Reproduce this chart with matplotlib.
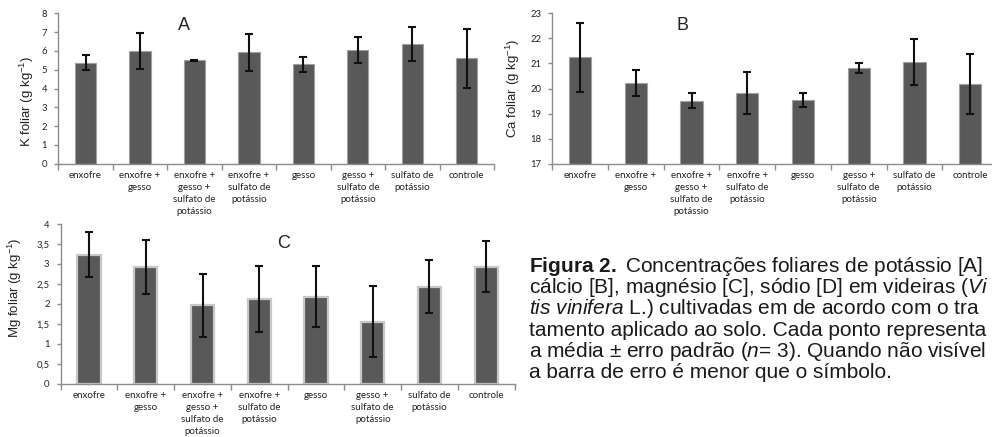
import matplotlib
matplotlib.use('Agg')
import matplotlib.pyplot as plt
import numpy as np

plt.rcParams['mathtext.fontset'] = 'custom'
plt.rcParams['mathtext.rm'] = 'Liberation Sans'
plt.rcParams['mathtext.it'] = 'Liberation Sans:italic'
plt.rcParams['mathtext.bf'] = 'Liberation Sans:bold'

# ---------------- data ----------------
categories = ["enxofre", "enxofre +\ngesso", "enxofre +\ngesso +\nsulfato de\npotássio",
              "enxofre +\nsulfato de\npotássio", "gesso", "gesso +\nsulfato de\npotássio",
              "sulfato de\npotássio", "controle"]

k_mean = [5.37, 5.98, 5.50, 5.92, 5.30, 6.03, 6.37, 5.62]
k_err = [0.40, 0.95, 0.03, 0.97, 0.40, 0.69, 0.90, 1.57]
ca_mean = [21.24, 20.22, 19.51, 19.82, 19.54, 20.80, 21.07, 20.19]
ca_err = [1.36, 0.53, 0.30, 0.82, 0.29, 0.20, 0.92, 1.20]
mg_mean = [3.23, 2.92, 1.96, 2.12, 2.18, 1.55, 2.43, 2.93]
mg_err = [0.57, 0.68, 0.80, 0.82, 0.77, 0.89, 0.66, 0.64]

k_ticks = [0, 1, 2, 3, 4, 5, 6, 7, 8]
k_ticklabels = ["0", "1", "2", "3", "4", "5", "6", "7", "8"]
ca_ticks = [17, 18, 19, 20, 21, 22, 23]
ca_ticklabels = ["17", "18", "19", "20", "21", "22", "23"]
mg_ticks = [0, 0.5, 1, 1.5, 2, 2.5, 3, 3.5, 4]
mg_ticklabels = ["0", "0,5", "1", "1,5", "2", "2,5", "3", "3,5", "4"]

# caption (as visible in the reference, which is cropped at its right edge)
caption_lines = [
    r"$\bf{Figura\ 2.}$ Concentrações foliares de potássio [A]",
    r"cálcio [B], magnésio [C], sódio [D] em videiras ($\it{Vi}$",
    r"$\it{tis\ vinifera}$ L.) cultivadas em de acordo com o tra",
    r"tamento aplicado ao solo. Cada ponto representa",
    r"a média ± erro padrão ($\it{n}$= 3). Quando não visível",
    r"a barra de erro é menor que o símbolo.",
]

# ---------------- figure ----------------
W, H = 992, 437
fig = plt.figure(figsize=(W / 100, H / 100), dpi=100)

SPINE = '#8c8c8c'
BAR = '#595959'
TICKFONT = 'Lato'


def px_rect(l, t, r, b):
    return [l / W, 1 - b / H, (r - l) / W, (b - t) / H]


def panel(rect, means, errs, ylim, yticks, yticklabels, ylabel, ylab_xy,
          letter, letter_xy, edgecolor, edgelw, width):
    ax = fig.add_axes(px_rect(*rect))
    n = len(means)
    x = np.arange(n)
    ax.bar(x, means, width, color=BAR, edgecolor=edgecolor, linewidth=edgelw, zorder=2)
    ax.errorbar(x, means, yerr=errs, fmt='none', ecolor='#111111', elinewidth=1.5,
                capsize=2.6, capthick=1.5, zorder=3)
    ax.set_xlim(-0.5, n - 0.5)
    ax.set_ylim(*ylim)
    for s in ['top', 'right']:
        ax.spines[s].set_visible(False)
    for s in ['left', 'bottom']:
        ax.spines[s].set_color(SPINE)
        ax.spines[s].set_linewidth(1.0)
    ax.set_xticks(x)
    ax.set_xticklabels(categories, fontsize=7, family=TICKFONT, color='#222222',
                       linespacing=1.45, va='top')
    ax.tick_params(axis='x', which='major', length=0, pad=5)
    ax.set_xticks(np.arange(n + 1) - 0.5, minor=True)
    ax.tick_params(axis='x', which='minor', length=4, color=SPINE, direction='out', width=1)
    ax.set_yticks(yticks)
    ax.set_yticklabels(yticklabels, fontsize=6.8, family=TICKFONT, color='#222222')
    ax.tick_params(axis='y', length=3, color=SPINE, direction='out', width=1, pad=5)
    fig.text(ylab_xy[0] / W, 1 - ylab_xy[1] / H, ylabel, rotation=90, ha='center', va='center',
             fontsize=9.5, family='Liberation Sans', color='#222222')
    fig.text(letter_xy[0] / W, 1 - letter_xy[1] / H, letter, ha='center', va='center',
             fontsize=13, family='Liberation Sans', color='#222222')
    return ax


panel((58.3, 13.3, 494, 163.7), k_mean, k_err, (0, 8), k_ticks, k_ticklabels,
      r"K foliar (g kg$^{-1}$)", (27, 101), "A", (184, 26), '#a0a0a0', 0.8, 0.39)
panel((552.3, 13.3, 998, 163.7), ca_mean, ca_err, (17, 23), ca_ticks, ca_ticklabels,
      r"Ca foliar (g kg$^{-1}$)", (513, 88), "B", (683, 26), '#a0a0a0', 0.8, 0.40)
panel((60.7, 224, 514.5, 383.7), mg_mean, mg_err, (0, 4), mg_ticks, mg_ticklabels,
      r"Mg foliar (g kg$^{-1}$)", (15, 288), "C", (284, 243), '#c8c8c8', 1.6, 0.41)

# caption
base0 = 271.5
step = 21.4
for i, line in enumerate(caption_lines):
    fig.text(529 / W, 1 - (base0 + i * step) / H, line, ha='left', va='baseline',
             fontsize=15, family='Liberation Sans', color='#1a1a1a')

fig.savefig('out.png', dpi=100)
